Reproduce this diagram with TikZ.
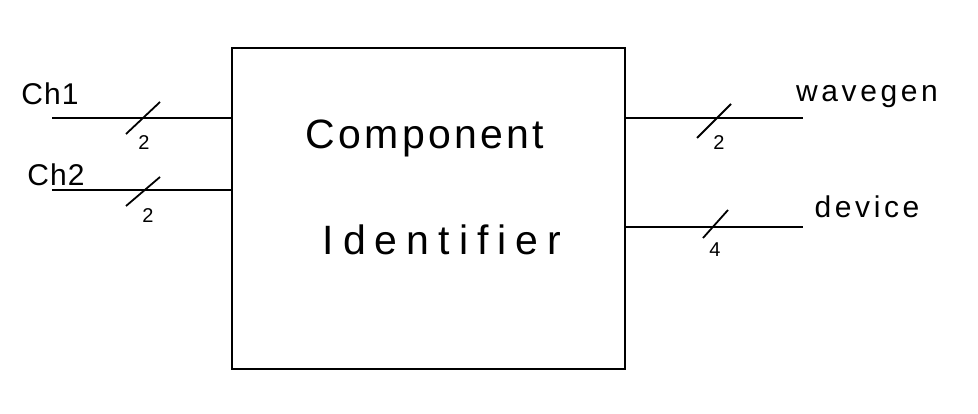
\documentclass[tikz,border=0pt]{standalone}
\usepackage{fontspec}
\setmainfont{Liberation Sans}
\newfontfamily\handA[LetterSpace=8]{Liberation Sans}
\newfontfamily\handC[LetterSpace=22]{Liberation Sans}
\newfontfamily\handB[LetterSpace=12]{Liberation Sans}
\newfontfamily\handD[LetterSpace=4]{Liberation Sans}
\begin{document}
\begin{tikzpicture}[x=1pt,y=-1pt,
  wire/.style={line width=2pt},
  tick/.style={line width=1.8pt},
  bigtxt/.style={font=\handA\fontsize{41}{48}\selectfont, inner sep=0pt},
  bigtxtw/.style={font=\handC\fontsize{41}{48}\selectfont, inner sep=0pt},
  lbl/.style={font=\handB\fontsize{30}{36}\selectfont, inner sep=0pt},
  chl/.style={font=\handD\fontsize{30}{36}\selectfont, inner sep=0pt},
  num/.style={font=\fontsize{20}{24}\selectfont, inner sep=0pt}]
\useasboundingbox (0,0) rectangle (978,414);
\node[draw, line width=2pt, minimum width=393pt, minimum height=321pt, inner sep=0pt] (box) at (428.5,208.5) {};
\node[bigtxt] (t1) at (425,138) {Component};
\node[bigtxtw] (t2) at (442,240) {Identifier};
% left wires
\coordinate (c1) at (52,118);
\coordinate (c2) at (52,190);
\draw[wire] (c1) -- (c1 -| box.west);
\draw[wire] (c2) -- (c2 -| box.west);
% right wires
\coordinate (w) at (803,118);
\coordinate (d) at (803,227);
\draw[wire] (w -| box.east) -- (w);
\draw[wire] (d -| box.east) -- (d);
% slashes
\draw[tick] (126,134) -- (160,102);
\draw[tick] (126,206) -- (160,177);
\draw[tick] (697,138) -- (731,104);
\draw[tick] (703,238) -- (728,210);
% bit-width labels
\node[num] (n1) at (144,143) {2};
\node[num] (n2) at (148,216) {2};
\node[num] (n3) at (719,143) {2};
\node[num] (n4) at (715,250) {4};
% signal names
\node[chl] (l1) at (50,94) {Ch1};
\node[chl] (l2) at (56,175) {Ch2};
\node[lbl] (l3) at (867,97) {wavegen};
\node[lbl] (l4) at (867,207) {device};
\end{tikzpicture}
\end{document}
